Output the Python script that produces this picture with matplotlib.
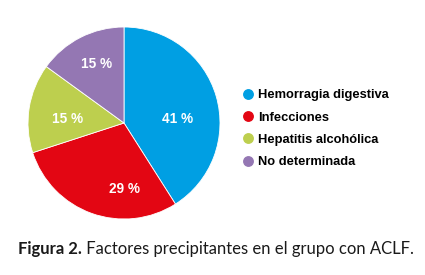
import matplotlib
matplotlib.use("Agg")
import matplotlib.pyplot as plt
from matplotlib.lines import Line2D

categories = ["Hemorragia digestiva", "Infecciones", "Hepatitis alcohólica", "No determinada"]
values = [41, 29, 15, 15]
colors = ["#009FE3", "#E30613", "#BDCF4E", "#9477B3"]
caption_bold = "Figura 2."
caption_rest = " Factores precipitantes en el grupo con ACLF."

# label placement (layout, in radius units)
label_pos = [(0.56, 0.04), (0.0, -0.69), (-0.59, 0.04), (-0.29, 0.61)]

font = "Liberation Sans"

fig = plt.figure(figsize=(4.25, 2.75), dpi=100)
W, H = 425, 275
cx, cy, r = 124, 123, 96
ax = fig.add_axes([(cx - r) / W, 1 - (cy + r) / H, 2 * r / W, 2 * r / H])
wedges, texts, autotexts = ax.pie(
    values, colors=colors, startangle=90, counterclock=False,
    autopct=lambda p: f"{p:.0f} %", pctdistance=0.6,
    textprops=dict(color="white", fontsize=9.8, fontweight="bold", family=font),
    wedgeprops=dict(linewidth=0.6, edgecolor="white"),
)
for t, p in zip(autotexts, label_pos):
    t.set_position(p)
ax.set_aspect("equal")
ax.set_xlim(-1, 1)
ax.set_ylim(-1, 1)

handles = [Line2D([0], [0], marker="o", linestyle="", markersize=6.8,
                  markerfacecolor=c, markeredgecolor=c) for c in colors]
fig.legend(handles, categories, loc="center left", bbox_to_anchor=(230 / W, 1 - 128.8 / H),
           frameon=False, handletextpad=0.25, labelspacing=0.8,
           prop=dict(family=font, size=9.3, weight="bold"), handlelength=1.0)

t = fig.text(18 / W, 1 - 249 / H, caption_bold, fontsize=12, fontweight="bold",
             family="Lato", va="center", ha="left", color="#1a1a1a")
fig.canvas.draw()
bb = t.get_window_extent()
fig.text(bb.x1 / W, 1 - 249 / H, caption_rest, fontsize=12, family="Lato",
         va="center", ha="left", color="#1a1a1a")

fig.savefig("out.png", dpi=100)
